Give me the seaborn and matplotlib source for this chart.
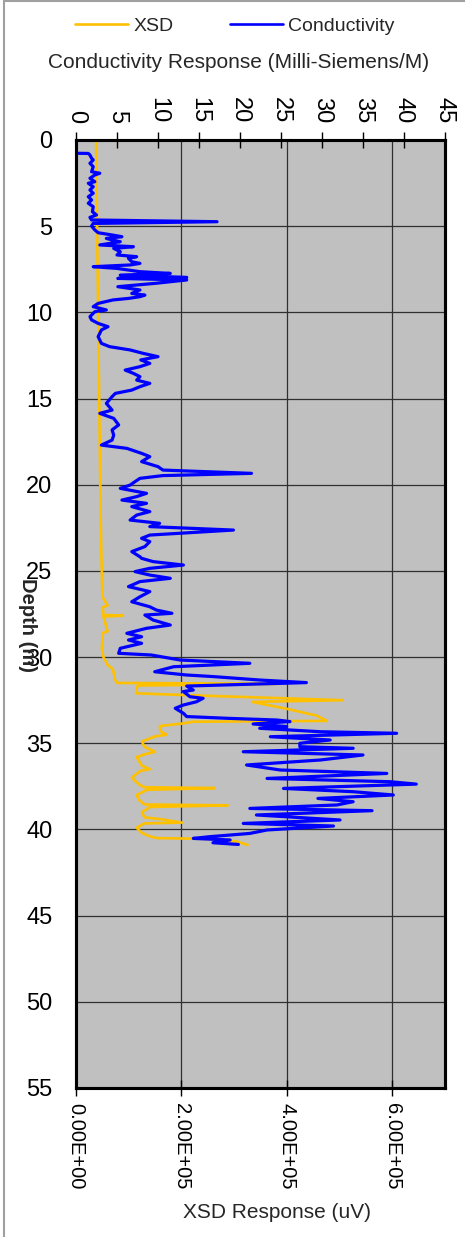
import matplotlib
matplotlib.use("Agg")
import matplotlib.pyplot as plt
from matplotlib.lines import Line2D
import seaborn as sns
import pandas as pd

# ---------------- data ----------------
cond_depth = [0, 0.77, 0.78, 0.87, 1.06, 1.16, 1.35, 1.55, 1.84, 1.93, 2.03, 2.22, 2.42, 2.51, 2.71, 2.9,
              3.09, 3.29, 3.48, 3.67, 3.87, 4.16, 4.35, 4.49, 4.64, 4.74, 4.84, 4.99, 5.22, 5.38, 5.51,
              5.61, 5.71, 5.8, 5.9, 6.09, 6.19, 6.29, 6.48, 6.67, 6.77, 6.87, 7.06, 7.16, 7.25, 7.35,
              7.45, 7.64, 7.74, 7.84, 7.97, 8.03, 8.12, 8.31, 8.51, 8.7, 8.9, 9.0, 9.09, 9.19, 9.28,
              9.48, 9.67, 9.86, 9.96, 10.25, 10.44, 10.64, 10.83, 11.02, 11.41, 11.8, 11.99, 12.18,
              12.38, 12.57, 12.76, 12.96, 13.15, 13.35, 13.54, 13.73, 13.93, 14.12, 14.31, 14.51,
              14.7, 14.89, 15.28, 15.67, 15.86, 16.15, 16.53, 16.82, 17.12, 17.41, 17.7, 17.89,
              18.18, 18.37, 18.66, 18.95, 19.15, 19.34, 19.47, 19.63, 19.82, 20.02, 20.21, 20.5,
              20.69, 20.89, 21.08, 21.27, 21.56, 21.76, 22.05, 22.24, 22.43, 22.63, 22.92, 23.11,
              23.3, 23.59, 23.88, 24.18, 24.27, 24.46, 24.66, 24.85, 25.04, 25.24, 25.43, 25.62,
              25.91, 26.2, 26.5, 26.79, 27.08, 27.27, 27.46, 27.56, 27.85, 28.14, 28.33, 28.62,
              28.82, 29.01, 29.2, 29.49, 29.78, 29.88, 30.17, 30.36, 30.56, 30.85, 31.04, 31.13,
              31.33, 31.48, 31.68, 31.91, 32.0, 32.3, 32.39, 32.59, 32.78, 32.97, 33.26, 33.45,
              33.55, 33.65, 33.74, 33.88, 34.03, 34.13, 34.33, 34.42, 34.62, 34.81, 35.0, 35.2,
              35.29, 35.49, 35.68, 35.97, 36.26, 36.55, 36.75, 37.04, 37.23, 37.37, 37.62, 37.81,
              38.0, 38.2, 38.39, 38.58, 38.78, 38.91, 39.16, 39.45, 39.65, 39.8, 40.03, 40.23,
              40.42, 40.52, 40.61, 40.77, 40.87]
cond_val = [0, 0, 1.5, 1.7, 1.9, 2.1, 1.7, 2.1, 1.9, 2.9, 2.3, 1.7, 2.3, 1.5, 2.1, 1.7,
            2.1, 1.5, 1.9, 1.5, 2.1, 2.0, 2.5, 1.7, 1.9, 17.2, 2.1, 1.9, 2.3, 2.7, 4.4,
            5.6, 3.7, 4.4, 5.4, 2.9, 7.0, 4.6, 5.4, 5.0, 7.4, 6.4, 6.8, 7.8, 6.6, 2.1,
            5.0, 7.8, 11.5, 5.4, 13.5, 5.1, 13.5, 9.8, 5.1, 7.8, 6.8, 8.4, 7.8, 6.4, 4.5,
            2.7, 2.1, 3.7, 2.3, 1.7, 1.9, 2.7, 3.9, 3.1, 2.7, 3.1, 4.1, 6.6,
            8.2, 10.0, 7.9, 9.0, 7.8, 6.0, 7.0, 7.8, 7.4, 9.0, 7.8, 6.8,
            4.8, 4.4, 3.7, 4.4, 2.9, 4.6, 5.2, 4.4, 4.6, 4.4, 3.1, 6.2,
            8.0, 9.0, 8.0, 10.0, 10.6, 21.4, 10.6, 7.8, 7.2, 6.6, 5.4, 8.6,
            7.4, 5.6, 8.6, 6.8, 9.0, 7.4, 6.6, 10.2, 9.0, 19.2, 9.0, 8.0,
            9.0, 8.4, 6.8, 7.8, 8.0, 9.4, 13.1, 9.0, 7.2, 9.0, 11.5, 7.8,
            6.4, 9.0, 7.8, 6.8, 9.0, 9.8, 11.7, 8.4, 9.4, 11.5, 8.6, 6.2,
            8.0, 6.4, 8.0, 5.4, 5.2, 9.2, 12.7, 21.2, 11.9, 9.6, 13.5, 16.7,
            22.4, 28.1, 13.5, 14.3, 13.1, 13.9, 15.5, 14.7, 13.1, 12.1, 13.1, 13.5,
            18.4, 24.5, 26.1, 21.6, 25.7, 22.4, 29.8, 39.1, 23.7, 31.0, 27.3, 27.3,
            33.8, 20.4, 35.0, 29.8, 20.8, 24.9, 37.9, 23.3, 38.3, 41.5, 25.3, 33.8,
            38.7, 29.5, 33.8, 31.8, 21.2, 36.1, 22.0, 32.2, 20.4, 31.4, 23.3, 21.2,
            16.3, 14.3, 18.8, 16.7, 19.8]

xsd_depth = [0, 5, 10, 15, 20, 24, 25, 26.5, 27.0, 27.1, 27.55, 27.6, 27.65, 28.5, 28.6, 29.5,
             30.0, 30.45, 30.7, 31.3, 31.5, 31.55, 31.65, 31.7, 32.1, 32.2, 32.5, 32.6, 33.0,
             33.4, 33.7, 33.75, 33.85, 34.0, 34.3, 34.5, 34.6, 34.9, 35.2, 35.5, 35.6, 35.8,
             36.3, 36.5, 36.6, 37.0, 37.4, 37.55, 37.6, 37.7, 38.0, 38.3, 38.55, 38.6, 38.7,
             39.0, 39.3, 39.4, 39.6, 39.65, 39.9, 40.2, 40.4, 40.5, 40.55, 40.7, 40.9]
xsd_val = [38000, 40000, 42000, 44000, 46000, 48000, 49000, 50000, 60000, 51000, 52000, 89000,
           52000, 60000, 51000, 49000, 52000, 60000, 70000, 74000, 78000, 387000, 120000, 116000,
           114000, 203000, 506000, 334000, 400000, 457000, 476000, 222000, 203000, 159000,
           160000, 172000, 150000, 125000, 130000, 150000, 135000, 115000, 125000, 140000,
           122000, 106000, 120000, 130000, 263000, 135000, 115000, 120000, 130000, 288000,
           140000, 125000, 130000, 160000, 201000, 130000, 115000, 125000, 140000, 153000,
           254000, 305000, 326000]

depth_ticks = list(range(0, 60, 5))
cond_ticks = list(range(0, 50, 5))
xsd_ticks = [0, 200000, 400000, 600000]
xsd_ticklabels = ["0.00E+00", "2.00E+05", "4.00E+05", "6.00E+05"]

# ---------------- style ----------------
sns.set_style("white")
plt.rcParams["font.family"] = ["Liberation Sans", "DejaVu Sans"]

W, H = 465, 1237
fig = plt.figure(figsize=(W / 100, H / 100), dpi=100)
fig.patch.set_facecolor("white")

L, R, T, B = 76, 445, 140, 1088
ax = fig.add_axes([L / W, 1 - B / H, (R - L) / W, (B - T) / H])
ax.set_facecolor("#C0C0C0")

xsd_df = pd.DataFrame({"depth": xsd_depth, "xsd": xsd_val})
cond_df = pd.DataFrame({"depth": cond_depth, "cond": cond_val})

XSD_C = "#FFC000"
CON_C = "#0000FF"

sns.lineplot(data=xsd_df, x="xsd", y="depth", sort=False, estimator=None,
             orient="y", color=XSD_C, lw=1.9, ax=ax)
ax.set_xlim(0, 700000)
ax.set_ylim(55, 0)
ax.set_xticks(xsd_ticks)
ax.set_xticklabels(xsd_ticklabels, rotation=-90, fontsize=14.5)
ax.set_yticks(depth_ticks)
ax.set_yticklabels([str(t) for t in depth_ticks], fontsize=17)
ax.set_xlabel("")
ax.set_ylabel("")
ax.grid(True, color="#303030", lw=0.9)
ax.set_axisbelow(True)
ax.tick_params(axis="x", direction="inout", length=11, width=1, pad=5, colors="black")
ax.tick_params(axis="y", direction="inout", length=12, width=1, pad=11, colors="black")
for s in ax.spines.values():
    s.set_visible(True)
    s.set_color("black")
    s.set_linewidth(2.2)

ax2 = ax.twiny()
sns.lineplot(data=cond_df, x="cond", y="depth", sort=False, estimator=None,
             orient="y", color=CON_C, lw=2.3, ax=ax2)
ax2.set_xlim(0, 45)
ax2.set_ylim(55, 0)
ax2.set_xticks(cond_ticks)
ax2.set_xticklabels([str(t) for t in cond_ticks], rotation=-90, fontsize=17)
ax2.set_xlabel("")
ax2.set_ylabel("")
ax2.grid(False)
ax2.tick_params(axis="x", direction="inout", length=12, width=1, pad=6, colors="black")
for s in ax2.spines.values():
    s.set_color("black")
    s.set_linewidth(2.2)

# texts
fig.text(239 / W, 1 - 63 / H, "Conductivity Response (Milli-Siemens/M)",
         ha="center", va="center", fontsize=15)
fig.text(277 / W, 1 - 1213 / H, "XSD Response (uV)", ha="center", va="center", fontsize=15)
fig.text(27 / W, 1 - 625 / H, "Depth (m)", ha="center", va="center", rotation=-90,
         fontsize=14.5, fontweight="bold")

handles = [Line2D([], [], color=XSD_C, lw=1.9), Line2D([], [], color=CON_C, lw=1.9)]
fig.legend(handles, ["XSD", "Conductivity"], loc="center", bbox_to_anchor=(235 / W, 1 - 26 / H),
           ncol=2, frameon=False, fontsize=14, handlelength=2.7, handletextpad=0.3,
           columnspacing=2.9)

# chart-area border
fig.add_artist(Line2D([4 / W, 4 / W], [0, 1], transform=fig.transFigure, color="#A0A0A0", lw=1.5))
fig.add_artist(Line2D([4 / W, 1], [1 - 1 / H, 1 - 1 / H], transform=fig.transFigure, color="#A0A0A0", lw=1.5))

fig.savefig("out.png", dpi=100, facecolor="white")
